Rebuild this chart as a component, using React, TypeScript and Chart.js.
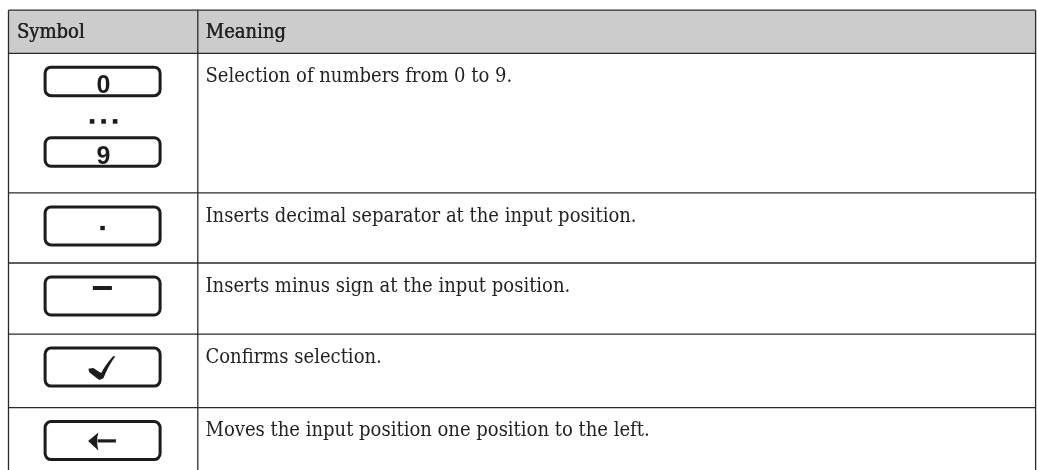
import React, { useEffect, useRef } from "react";
import { Chart, registerables } from "chart.js";

Chart.register(...registerables);

// ---- table content ----
const columnHeaders: string[] = ["Symbol", "Meaning"];
const symbolKinds: string[] = ["digits", "decimal", "minus", "confirm", "back"];
const digitKeys: string[] = ["0", "9"];
const meanings: string[] = [
  "Selection of numbers from 0 to 9.",
  "Inserts decimal separator at the input position.",
  "Inserts minus sign at the input position.",
  "Confirms selection.",
  "Moves the input position one position to the left.",
];

// ---- layout (page coordinates, mapped through the chart's scales) ----
const W = 1037;
const H = 470;
const L = {
  left: 8.5,
  divider: 197.8,
  right: 1035.6,
  rowEdges: [10.2, 53.4, 192.9, 263, 334.1, 407.6, 490],
  headerBaseline: 38.3,
  textX: 205.5,
  symbolX: 16.8,
  bodyBaselineOffset: 28.6,
  btnCenterX: 102.6,
  btnW: 115,
  btnH: 38,
  digitBtnH: 28.5,
  btnLine: 3,
  btnRadius: 6,
};

const TEXT_FONT = '"DejaVu Serif Condensed", "DejaVu Serif", serif';
const TEXT_COLOR = "#222222";
const GRID_COLOR = "#2a2a2a";
const KEY_COLOR = "#1c1c1c";

function roundRect(ctx: CanvasRenderingContext2D, x: number, y: number, w: number, h: number, r: number) {
  ctx.beginPath();
  ctx.moveTo(x + r, y);
  ctx.lineTo(x + w - r, y);
  ctx.arcTo(x + w, y, x + w, y + r, r);
  ctx.lineTo(x + w, y + h - r);
  ctx.arcTo(x + w, y + h, x + w - r, y + h, r);
  ctx.lineTo(x + r, y + h);
  ctx.arcTo(x, y + h, x, y + h - r, r);
  ctx.lineTo(x, y + r);
  ctx.arcTo(x, y, x + r, y, r);
  ctx.closePath();
}

const tablePlugin = {
  id: "symbolTable",
  afterDraw(chart: any) {
    const ctx: CanvasRenderingContext2D = chart.ctx;
    const sx = chart.scales.x;
    const sy = chart.scales.y;
    const X = (v: number) => sx.getPixelForValue(v);
    const Y = (v: number) => sy.getPixelForValue(v);
    const e = L.rowEdges;

    ctx.save();
    // header background
    ctx.fillStyle = "#cccccc";
    ctx.fillRect(X(L.left), Y(e[0]), X(L.right) - X(L.left), Y(e[1]) - Y(e[0]));

    // grid lines
    ctx.strokeStyle = GRID_COLOR;
    ctx.lineWidth = 1.3;
    for (let i = 0; i < e.length - 1; i++) {
      ctx.beginPath();
      ctx.moveTo(X(L.left), Y(e[i]));
      ctx.lineTo(X(L.right), Y(e[i]));
      ctx.stroke();
    }
    [L.left, L.divider, L.right].forEach((xv) => {
      ctx.beginPath();
      ctx.moveTo(X(xv), Y(e[0]));
      ctx.lineTo(X(xv), Y(e[e.length - 1]));
      ctx.stroke();
    });

    // header text (medium weight: regular face drawn twice with a tiny offset)
    ctx.fillStyle = TEXT_COLOR;
    ctx.textBaseline = "alphabetic";
    ctx.textAlign = "left";
    ctx.font = `20px ${TEXT_FONT}`;
    [0, 0.45].forEach((off) => {
      ctx.fillText(columnHeaders[0], X(L.symbolX) + off, Y(L.headerBaseline));
      ctx.fillText(columnHeaders[1], X(L.textX) + off, Y(L.headerBaseline));
    });

    // meanings
    ctx.font = `20px ${TEXT_FONT}`;
    meanings.forEach((m, i) => {
      ctx.fillText(m, X(L.textX), Y(e[i + 1] + L.bodyBaselineOffset));
    });

    // symbols
    const cx = X(L.btnCenterX);
    const keyBox = (cyVal: number, h: number) => {
      ctx.strokeStyle = KEY_COLOR;
      ctx.lineWidth = L.btnLine;
      roundRect(ctx, cx - L.btnW / 2, Y(cyVal) - h / 2, L.btnW, h, L.btnRadius);
      ctx.stroke();
    };

    symbolKinds.forEach((kind, i) => {
      const top = e[i + 1];
      ctx.fillStyle = KEY_COLOR;
      if (kind === "digits") {
        const centers = [top + 28, top + 98.6];
        centers.forEach((c, k) => {
          keyBox(c, L.digitBtnH);
          ctx.fillStyle = KEY_COLOR;
          ctx.font = 'bold 25px "Liberation Sans", Arial, Helvetica, sans-serif';
          ctx.textAlign = "center";
          ctx.fillText(digitKeys[k], cx + 0.8, Y(c + 11.6));
        });
        ctx.textAlign = "left";
        const dy = Y(top + 68);
        [-10.5, 1, 12.5].forEach((dx) => {
          ctx.fillRect(cx + dx - 2.3, dy - 2.3, 4.6, 4.6);
        });
        return;
      }
      const c = top + 33;
      keyBox(c, L.btnH);
      const cy = Y(c);
      ctx.fillStyle = KEY_COLOR;
      if (kind === "decimal") {
        ctx.fillRect(cx - 2.3, cy + 0, 4.5, 4.3);
      } else if (kind === "minus") {
        ctx.fillRect(cx - 9.7, cy - 10, 19, 4);
      } else if (kind === "confirm") {
        ctx.beginPath();
        ctx.moveTo(cx - 14.2, cy + 1.6);
        ctx.lineTo(cx - 13.4, cy + 5.2);
        ctx.lineTo(cx - 3.4, cy + 12.8);
        ctx.lineTo(cx + 0.8, cy + 11.2);
        ctx.quadraticCurveTo(cx + 5.5, cy - 1, cx + 12.8, cy - 10.8);
        ctx.lineTo(cx + 10.4, cy - 10.9);
        ctx.quadraticCurveTo(cx + 2.8, cy - 2.2, cx - 1.4, cy + 5.8);
        ctx.lineTo(cx - 9.4, cy + 0.9);
        ctx.closePath();
        ctx.fill();
      } else if (kind === "back") {
        // shaft
        ctx.fillRect(cx - 5, cy - 1.3, 18.3, 3.2);
        // head
        ctx.beginPath();
        ctx.moveTo(cx - 14.5, cy + 0.4);
        ctx.lineTo(cx - 4.2, cy - 8);
        ctx.quadraticCurveTo(cx - 6.8, cy + 0.4, cx - 4.2, cy + 9.8);
        ctx.closePath();
        ctx.fill();
      }
    });
    ctx.restore();
  },
};

export default function App() {
  const canvasRef = useRef<HTMLCanvasElement | null>(null);

  useEffect(() => {
    const canvas = canvasRef.current;
    if (!canvas) return;
    const chart = new Chart(canvas, {
      type: "scatter",
      data: { datasets: [] },
      options: {
        animation: false,
        responsive: false,
        devicePixelRatio: 1,
        layout: { padding: 0 },
        plugins: {
          legend: { display: false },
          tooltip: { enabled: false },
          title: { display: false },
        },
        scales: {
          x: { type: "linear", min: 0, max: W, display: false },
          y: { type: "linear", min: 0, max: H, reverse: true, display: false },
        },
      },
      plugins: [
        {
          id: "whiteBg",
          beforeDraw(c: any) {
            c.ctx.save();
            c.ctx.fillStyle = "#ffffff";
            c.ctx.fillRect(0, 0, c.width, c.height);
            c.ctx.restore();
          },
        },
        tablePlugin,
      ],
    } as any);
    return () => chart.destroy();
  }, []);

  return (
    <div style={{ position: "fixed", left: 0, top: 0, width: W, height: H, background: "#fff" }}>
      <canvas ref={canvasRef} width={W} height={H} style={{ display: "block", width: W, height: H }} />
    </div>
  );
}
